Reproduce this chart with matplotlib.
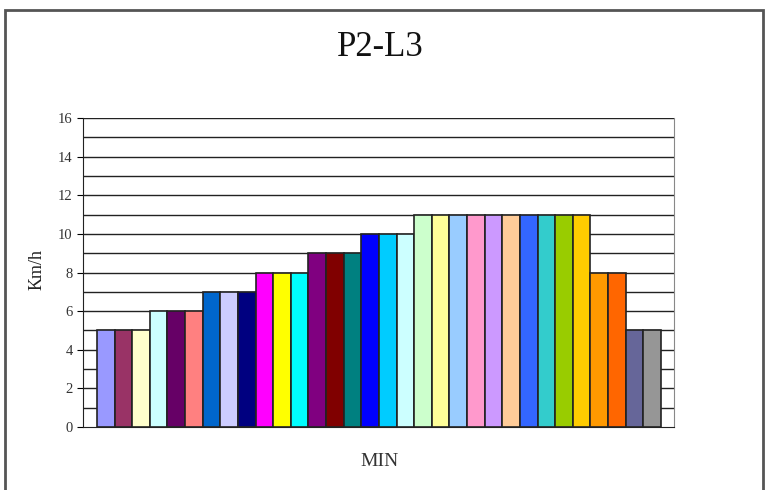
import numpy as np
import matplotlib.pyplot as plt
from matplotlib.patches import Rectangle

# one bar per minute, values in km/h
speeds = [5, 5, 5, 6, 6, 6, 7, 7, 7, 8, 8, 8, 9, 9, 9, 10, 10, 10,
          11, 11, 11, 11, 11, 11, 11, 11, 11, 11, 8, 8, 5, 5]
bar_colors = ['#9999FF', '#993366', '#FFFFCC', '#CCFFFF', '#660066', '#FF8080',
              '#0066CC', '#CCCCFF', '#000080', '#FF00FF', '#FFFF00', '#00FFFF',
              '#800080', '#800000', '#008080', '#0000FF', '#00CCFF', '#CCFFFF',
              '#CCFFCC', '#FFFF99', '#99CCFF', '#FF99CC', '#CC99FF', '#FFCC99',
              '#3366FF', '#33CCCC', '#99CC00', '#FFCC00', '#FF9900', '#FF6600',
              '#666699', '#969696']
y_ticks = [0, 2, 4, 6, 8, 10, 12, 14, 16]

plt.rcParams['font.family'] = ['Liberation Serif', 'DejaVu Serif']

fig = plt.figure(figsize=(7.65, 4.9), dpi=100)
fig.patches.append(Rectangle((5 / 765, -0.02), 758 / 765, 1.02 - 10 / 490,
                             transform=fig.transFigure, fill=False,
                             edgecolor='#555555', lw=2))

ax = fig.add_axes([83 / 765, 63 / 490, 591 / 765, 309 / 490])
x = np.arange(len(speeds))
ax.bar(x, speeds, width=1.0, color=bar_colors, edgecolor='#222222', lw=1.2, zorder=3)

# horizontal lines at each unit
for v in range(1, 17):
    ax.axhline(v, color='#222222', lw=1.0, zorder=1)

ax.set_xlim(-0.5 - 0.79, len(speeds) - 0.5 + 0.74)
ax.set_ylim(0, 16)
ax.set_yticks(y_ticks)
ax.tick_params(axis='y', which='major', length=4, labelsize=10.5, direction='out',
               labelcolor='#333333')
ax.set_xticks([])
ax.spines['top'].set_visible(False)
ax.spines['right'].set_color('#888888')
ax.spines['left'].set_color('#222222')
ax.spines['bottom'].set_color('#222222')

fig.text(380 / 765, 1 - 48 / 490, 'P2-L3', ha='center', va='center', fontsize=25, color='#111111')
fig.text(37 / 765, 1 - 270 / 490, 'Km/h', ha='center', va='center', fontsize=13,
         rotation=90, color='#222222')
fig.text(380 / 765, 1 - 461 / 490, 'MIN', ha='center', va='center', fontsize=14, color='#333333')

fig.savefig('out.png', dpi=100)
